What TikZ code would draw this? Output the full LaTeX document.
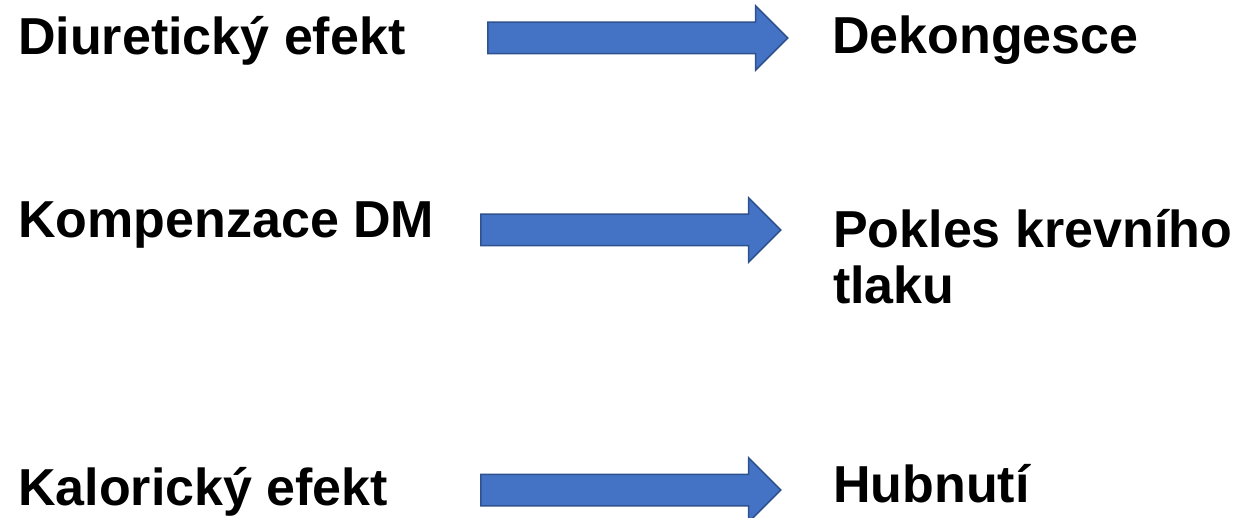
\documentclass[tikz,border=0pt]{standalone}
\usepackage{fontspec}
\setmainfont{Liberation Sans}
\usetikzlibrary{positioning, shapes.arrows}
\definecolor{clrarrow}{HTML}{4472C4}
\definecolor{clrarrowborder}{HTML}{2F528F}
\definecolor{clrtext}{HTML}{000000}

\begin{document}
\begin{tikzpicture}[
    x=1pt, y=-1pt,
    every node/.style={font=\bfseries},
    label/.style={font=\fontsize{52}{55}\selectfont\bfseries, text=clrtext,
                  inner sep=0pt, anchor=base west, align=left},
    blockarrow/.style={single arrow, draw=clrarrowborder, fill=clrarrow,
                  line width=1.5pt, inner xsep=0pt, inner ysep=15pt,
                  single arrow head extend=16.5pt, minimum height=300pt,
                  anchor=tail},
]
\useasboundingbox (0,0) rectangle (1238,518);
\node[label] (n_1) at (18,55) {Diuretický efekt};
\node[label] (n_2) at (18,238) {Kompenzace DM};
\node[label] (n_3) at (18,505) {Kalorický efekt};
\node[label] (n_4) at (832,54) {Dekongesce};
\node[label] (n_5) at (833,303) {Pokles krevního\\tlaku};
\node[label] (n_6) at (833,502) {Hubnutí};
\node[blockarrow] (a_1) at (487,38) {};
\node[blockarrow] (a_2) at (480,230) {};
\node[blockarrow] (a_3) at (480,490) {};
\end{tikzpicture}
\end{document}
